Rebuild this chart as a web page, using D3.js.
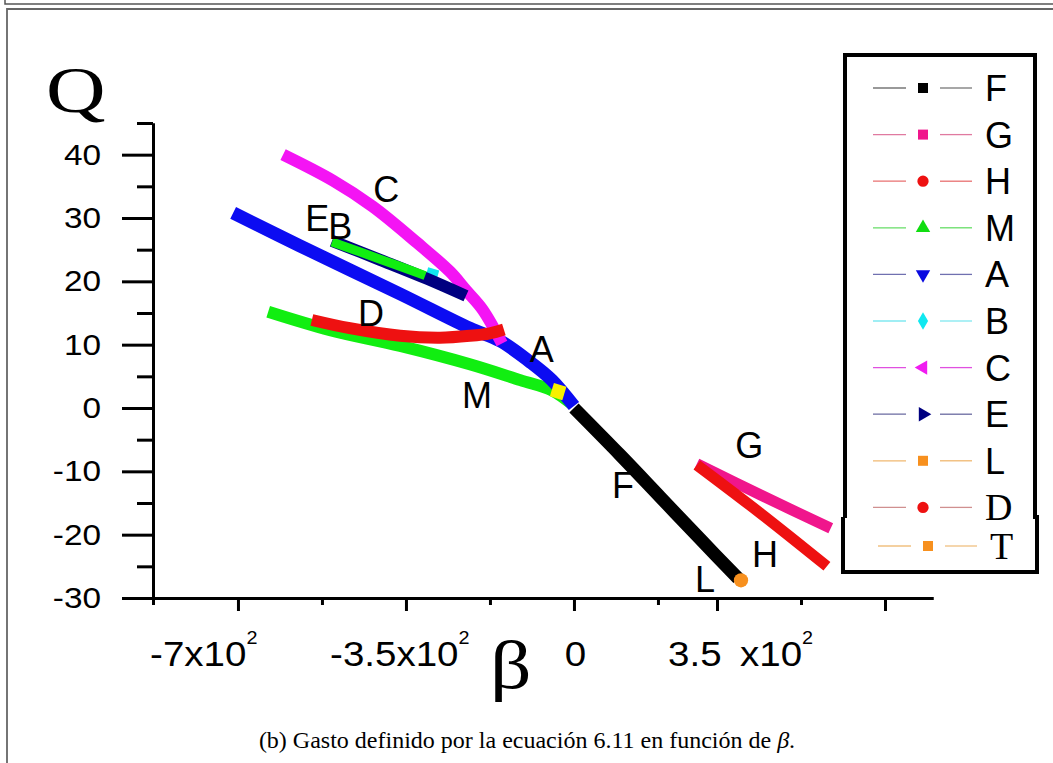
<!DOCTYPE html>
<html>
<head>
<meta charset="utf-8">
<script src="https://cdn.jsdelivr.net/npm/d3@7"></script>
<style>
body { margin: 0; background: #fff; }
</style>
</head>
<body>
<div id="chart"></div>
<script>
var svgWidth = 1053;
var svgHeight = 763;

// curves, beta / Q values
var mBeta = [-637, -508, -362, -217, -112, -46, -4];
var mQ = [15.2, 12.3, 9.8, 6.9, 4.4, 2.8, 0.6];
var aBeta = [-710, -571, -362, -217, -154, -92, -46, 0];
var aQ = [30.8, 25.6, 18.0, 12.6, 10.6, 7.3, 4.4, 0.3];
var cBeta = [-606, -502, -419, -327, -258, -225, -190, -150];
var cQ = [40.0, 35.9, 31.8, 26.1, 21.5, 18.6, 15.5, 10.2];
var bBeta = [-306, -283];
var bQ = [21.6, 21.1];
var eBeta = [-504, -404, -306, -225];
var eQ = [26.4, 23.4, 20.4, 17.7];
var m2Beta = [-504, -404, -310];
var m2Q = [26.2, 23.5, 20.9];
var dBeta = [-546, -467, -362, -279, -217, -175, -146];
var dQ = [13.9, 12.6, 11.4, 11.1, 11.4, 11.8, 12.4];
var yBeta = [-46, -20];
var yQ = [2.9, 2.3];
var fBeta = [0, 96, 179, 263, 342];
var fQ = [0, -7.4, -14.0, -20.7, -26.9];
var lBeta = [348];
var lQ = [-27.2];
var gBeta = [256, 388, 535];
var gQ = [-8.8, -13.7, -19.0];
var hBeta = [256, 388, 527];
var hQ = [-9.0, -16.6, -25.0];

// ticks
var yMajor = [40, 30, 20, 10, 0, -10, -20, -30];
var yMinor = [45, 35, 25, 15, 5, -5, -15, -25];
var xMajor = [-700, -350, 0, 298, 648];
var xMinor = [-877, -525, -175, 175, 473];
var xLabels = ["-7x10", "-3.5x10", "0", "3.5", "x10"];
var xLabelSup = ["2", "2", "", "", "2"];
var xLabelBeta = [-883, -508, -19, 196, 346];

// curve labels
var curveLabels = ["C", "E", "B", "D", "A", "M", "F", "G", "H", "L"];
var curveLabelBeta = [-418, -560, -512, -450, -92, -233, 79, 336, 371, 252];
var curveLabelQ = [32.5, 27.9, 26.7, 13.0, 7.2, 0.0, -14.2, -7.9, -25.1, -29.1];

// legend
var legendNames = ["F", "G", "H", "M", "A", "B", "C", "E", "L", "D", "T"];
var legendMarkColor = ["#000000", "#f0168c", "#ee1111", "#11dd11", "#0a0ae0", "#10e8f0",
                       "#f01cf0", "#000080", "#f7901e", "#ee1111", "#f7901e"];
var legendLineColor = ["#777777", "#e07aa0", "#e87070", "#66dd66", "#7070b0", "#80e8f0",
                       "#e050e0", "#6a6aa0", "#f0b870", "#d09090", "#f0c080"];
var legendShapes = ["square", "square", "circle", "up", "down", "diamond", "left", "right",
                    "square", "circle", "square"];

var svg = d3.select("#chart")
    .append("svg")
    .attr("width", svgWidth)
    .attr("height", svgHeight);

// page frames
svg.append("path")
    .attr("d", "M5,0 V4 H1053")
    .attr("fill", "none")
    .attr("stroke", "#555")
    .attr("stroke-width", 1.5);
svg.append("path")
    .attr("d", "M1053,9 H7 V763")
    .attr("fill", "none")
    .attr("stroke", "#666")
    .attr("stroke-width", 1.8);

var x = d3.scaleLinear().domain([-877, 748]).range([153, 933]);
var y = d3.scaleLinear().domain([-30, 45]).range([598, 123]);

var chart = svg.append("g");

function addAxis(axis) {
    var g = chart.append("g").call(axis);
    g.selectAll("path, line").attr("stroke", "#000").attr("stroke-width", 3);
    g.selectAll("text").remove();
    return g;
}

// y axis
addAxis(d3.axisLeft(y).tickValues(yMajor).tickSize(31).tickSizeOuter(0))
    .attr("transform", "translate(153,0)");
addAxis(d3.axisLeft(y).tickValues(yMinor).tickSize(16).tickSizeOuter(0))
    .attr("transform", "translate(153,0)");
// x axis
addAxis(d3.axisBottom(x).tickValues(xMajor).tickSize(13).tickSizeOuter(0))
    .attr("transform", "translate(0,598)");
addAxis(d3.axisBottom(x).tickValues(xMinor).tickSize(7).tickSizeOuter(0))
    .attr("transform", "translate(0,598)");

var sans = "'Liberation Sans', Arial, sans-serif";
var serif = "'Liberation Serif', 'Times New Roman', serif";

// y tick labels
chart.selectAll(".ylab")
    .data(yMajor)
    .enter()
    .append("text")
    .attr("transform", d => `translate(101, ${y(d) + 10}) scale(1.15,1)`)
    .attr("text-anchor", "end")
    .style("font-family", sans)
    .style("font-size", "29px")
    .text(d => d);

// x tick labels
var xl = chart.selectAll(".xlab")
    .data(xLabels)
    .enter()
    .append("text")
    .attr("transform", (d, i) => `translate(${x(xLabelBeta[i])}, 666) scale(1.1,1)`)
    .style("font-family", sans)
    .style("font-size", "35px");
xl.append("tspan").text(d => d);
xl.append("tspan")
    .attr("dy", -22)
    .style("font-size", "18px")
    .text((d, i) => xLabelSup[i]);

// axis titles
chart.append("text")
    .attr("transform", "translate(46,112) scale(1.25,1)")
    .style("font-family", serif)
    .style("font-size", "66px")
    .text("Q");
chart.append("text")
    .attr("transform", "translate(490,688) scale(1.2,1)")
    .style("font-family", serif)
    .style("font-size", "68px")
    .text("β");

// curves
var line = d3.line()
    .x(d => x(d[0]))
    .y(d => y(d[1]))
    .curve(d3.curveCatmullRom.alpha(0.5));

var curves = [
    {b: mBeta, q: mQ, color: "#11ee11", w: 12},
    {b: aBeta, q: aQ, color: "#0c0cf2", w: 13},
    {b: cBeta, q: cQ, color: "#f414f4", w: 12},
    {b: bBeta, q: bQ, color: "#10e8f0", w: 8},
    {b: eBeta, q: eQ, color: "#000080", w: 12},
    {b: m2Beta, q: m2Q, color: "#11ee11", w: 9},
    {b: dBeta, q: dQ, color: "#ee1111", w: 12},
    {b: yBeta, q: yQ, color: "#f8f000", w: 14},
    {b: fBeta, q: fQ, color: "#000000", w: 13},
    {b: gBeta, q: gQ, color: "#f0168c", w: 11},
    {b: hBeta, q: hQ, color: "#ee1111", w: 11}
];

curves.forEach(function(c) {
    chart.append("path")
        .datum(c.b.map((v, i) => [v, c.q[i]]))
        .attr("d", line)
        .attr("fill", "none")
        .attr("stroke", c.color)
        .attr("stroke-width", c.w)
        .attr("stroke-linejoin", "round");
});

// L end point
chart.selectAll(".lpt")
    .data(lBeta)
    .enter()
    .append("path")
    .attr("d", d3.symbol(d3.symbolCircle, 160))
    .attr("transform", (d, i) => `translate(${x(d)}, ${y(lQ[i])})`)
    .attr("fill", "#f7901e");

// curve labels
chart.selectAll(".clab")
    .data(curveLabels)
    .enter()
    .append("text")
    .attr("x", (d, i) => x(curveLabelBeta[i]))
    .attr("y", (d, i) => y(curveLabelQ[i]))
    .style("font-family", sans)
    .style("font-size", "36px")
    .text(d => d);

// legend
var legend = svg.append("g");
legend.append("path")
    .attr("d", "M845,518 V55 H1035 V518")
    .attr("fill", "none")
    .attr("stroke", "#000")
    .attr("stroke-width", 4);
legend.append("path")
    .attr("d", "M843,517 V572 H1037 V517 H1033")
    .attr("fill", "none")
    .attr("stroke", "#000")
    .attr("stroke-width", 4);

function symbolFor(s) {
    if (s === "square") return d3.symbol(d3.symbolSquare, 100)();
    if (s === "circle") return d3.symbol(d3.symbolCircle, 100)();
    if (s === "diamond") return d3.symbol(d3.symbolDiamond, 90)();
    return d3.symbol(d3.symbolTriangle, 90)();
}
var rot = {up: 0, down: 180, left: -90, right: 90};

legendNames.forEach(function(n, i) {
    var cy = i < 10 ? 88 + i * 46.6 : 546;
    var dx = i < 10 ? 0 : 5;
    legend.append("line")
        .attr("x1", 873 + dx).attr("x2", 906 + dx)
        .attr("y1", cy).attr("y2", cy)
        .attr("stroke", legendLineColor[i]).attr("stroke-width", 1.3);
    legend.append("line")
        .attr("x1", 940 + dx).attr("x2", 972 + dx)
        .attr("y1", cy).attr("y2", cy)
        .attr("stroke", legendLineColor[i]).attr("stroke-width", 1.3);
    legend.append("path")
        .attr("d", symbolFor(legendShapes[i]))
        .attr("transform", `translate(${923 + dx}, ${cy}) rotate(${rot[legendShapes[i]] || 0})`)
        .attr("fill", legendMarkColor[i]);
    var isSerif = (n === "D" || n === "T");
    legend.append("text")
        .attr("x", 985 + dx)
        .attr("y", cy + 13)
        .style("font-family", isSerif ? serif : sans)
        .style("font-size", isSerif ? "38px" : "36px")
        .text(n);
});

// caption
var cap = svg.append("text")
    .attr("x", 527)
    .attr("y", 748)
    .attr("text-anchor", "middle")
    .style("font-family", serif)
    .style("font-size", "24px");
cap.append("tspan").text("(b) Gasto definido por la ecuación 6.11 en función de ");
cap.append("tspan").style("font-style", "italic").text("β");
cap.append("tspan").text(".");
</script>
</body>
</html>
